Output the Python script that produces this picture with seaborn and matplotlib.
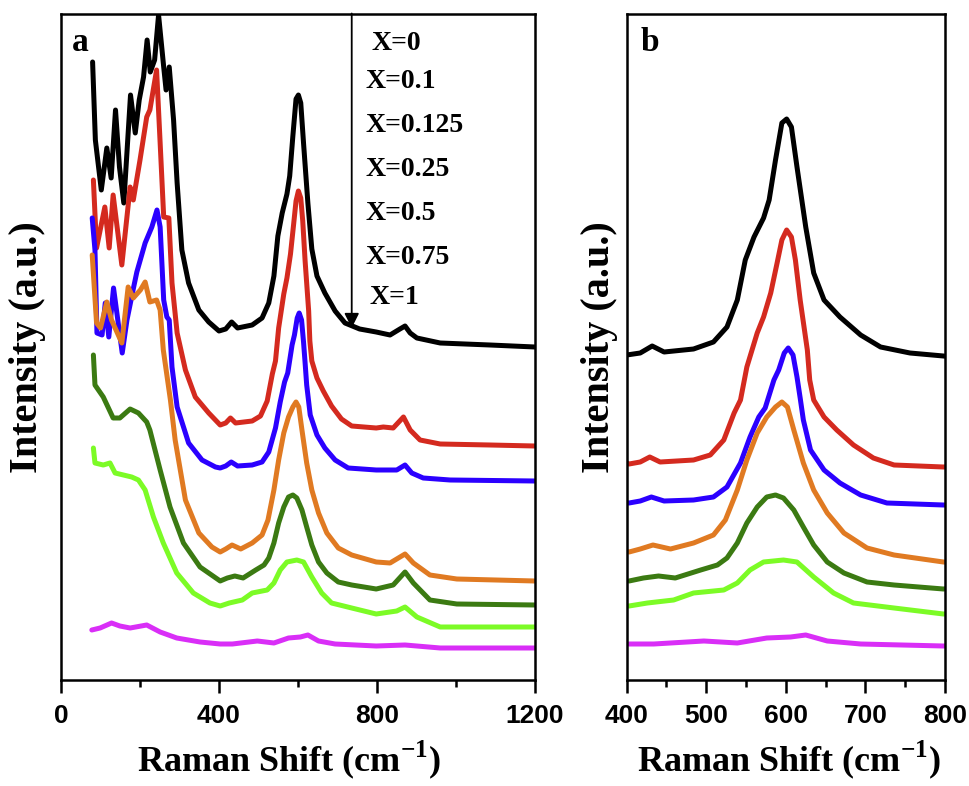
import numpy as np
import pandas as pd
import matplotlib
matplotlib.use("Agg")
import matplotlib.pyplot as plt
import seaborn as sns
from matplotlib.ticker import MultipleLocator
from matplotlib import font_manager

# ---------------- data ----------------
labels = ['X=0', 'X=0.1', 'X=0.125', 'X=0.25', 'X=0.5', 'X=0.75', 'X=1']
colors = ['#000000', '#D42A1F', '#2B00FF', '#E07A22', '#3B7A12', '#7CFB26', '#D92EF7']

black_x = [80, 87, 102, 116, 127, 138, 148, 159, 176, 188, 198, 209, 218, 226, 237, 247, 260, 266, 274, 285,
           294, 306, 323, 349, 374, 400, 417, 432, 447, 484, 509, 526, 539, 549, 560, 572, 579, 587, 595, 601,
           607, 614, 625, 635, 648, 668, 694, 719, 756, 798, 833, 858, 871, 884, 901, 960, 1086, 1200]
black_y = [618, 540, 490, 532, 502, 570, 513, 477, 585, 547, 580, 603, 640, 608, 620, 665, 613, 590, 613, 560,
           497, 430, 397, 370, 358, 349, 351, 358, 352, 355, 362, 377, 404, 444, 467, 486, 504, 544, 581, 585,
           577, 537, 477, 431, 404, 387, 369, 357, 351, 348, 345, 351, 354, 347, 342, 337, 335, 333]

red_x = [82, 90, 111, 122, 132, 154, 175, 183, 200, 217, 225, 242, 251, 260, 273, 281, 294, 315, 340, 374,
         403, 417, 429, 442, 484, 505, 522, 535, 543, 551, 564, 572, 581, 589, 595, 601, 607, 612, 618, 627,
         630, 635, 648, 664, 685, 710, 736, 798, 816, 841, 867, 884, 909, 960, 1086, 1200]
red_y = [500, 432, 473, 432, 485, 415, 493, 480, 520, 563, 570, 610, 537, 463, 462, 397, 347, 310, 283, 267,
         255, 257, 262, 257, 259, 264, 279, 306, 319, 352, 386, 402, 426, 456, 479, 489, 482, 459, 419, 369,
         339, 319, 302, 289, 274, 261, 254, 252, 253, 252, 263, 250, 240, 236, 235, 234]

blue_x = [79, 86, 91, 104, 112, 121, 133, 155, 167, 184, 192, 213, 230, 243, 251, 260, 268, 274, 281, 294,
          315, 323, 357, 391, 403, 417, 431, 447, 484, 509, 526, 543, 555, 566, 574, 585, 591, 598, 603, 609,
          614, 618, 622, 631, 648, 668, 694, 727, 798, 850, 871, 888, 917, 985, 1200]
blue_y = [462, 430, 347, 345, 377, 343, 392, 327, 360, 393, 408, 437, 453, 470, 453, 380, 363, 360, 313, 273,
          247, 237, 220, 213, 212, 214, 218, 214, 215, 218, 228, 252, 278, 298, 307, 335, 345, 362, 367, 360,
          338, 317, 295, 265, 245, 232, 220, 212, 210, 210, 215, 207, 202, 200, 199]

orange_x = [79, 90, 100, 116, 128, 154, 170, 183, 201, 213, 225, 242, 251, 259, 277, 289, 315, 349, 382, 403,
            417, 433, 455, 484, 509, 524, 539, 551, 564, 576, 587, 595, 602, 610, 622, 635, 652, 673, 702, 736,
            798, 833, 871, 892, 934, 1002, 1200]
orange_y = [425, 357, 352, 378, 360, 337, 393, 382, 390, 398, 378, 380, 370, 330, 280, 240, 180, 147, 133, 128,
            131, 135, 131, 137, 145, 160, 190, 220, 247, 263, 273, 278, 273, 250, 217, 190, 167, 147, 132, 125,
            118, 117, 126, 117, 105, 101, 99]

dgreen_x = [82, 86, 107, 132, 149, 175, 196, 217, 225, 251, 276, 310, 352, 403, 421, 440, 461, 493, 514, 526,
            539, 551, 564, 576, 587, 597, 610, 622, 635, 652, 673, 702, 736, 798, 841, 871, 892, 934, 1002, 1200]
dgreen_y = [325, 295, 283, 262, 262, 271, 267, 258, 250, 210, 173, 137, 113, 99, 102, 104, 102, 110, 115, 122,
            137, 157, 173, 183, 185, 182, 170, 153, 135, 118, 107, 98, 95, 91, 95, 108, 97, 80, 76, 75]

lgreen_x = [82, 86, 107, 124, 137, 158, 179, 196, 213, 234, 259, 293, 335, 377, 403, 426, 459, 484, 522, 539,
            555, 572, 597, 614, 635, 660, 685, 736, 798, 850, 871, 901, 960, 1086, 1200]
lgreen_y = [232, 217, 215, 217, 207, 205, 203, 200, 190, 163, 137, 107, 87, 77, 74, 77, 80, 87, 90, 97,
            110, 118, 120, 118, 103, 87, 77, 72, 66, 69, 73, 63, 53, 53, 53]

mag_x = [78, 99, 128, 149, 175, 217, 251, 293, 352, 403, 434, 497, 539, 576, 606, 625, 652, 694, 798, 871, 960, 1200]
mag_y = [50, 52, 57, 54, 52, 55, 48, 42, 38, 36, 36, 39, 37, 42, 43, 45, 39, 36, 34, 35, 32, 32]

# vertical offset of each trace in panel b relative to panel a
b_shift = [-24, -39, -35, 0, 0, 0, 0]

xs = [black_x, red_x, blue_x, orange_x, dgreen_x, lgreen_x, mag_x]
ys = [black_y, red_y, blue_y, orange_y, dgreen_y, lgreen_y, mag_y]

frames = []
for lab, x, y, sh in zip(labels, xs, ys, b_shift):
    frames.append(pd.DataFrame({'shift': x, 'intensity': y, 'sample': lab,
                                'intensity_b': np.array(y, dtype=float) + sh}))
df = pd.concat(frames, ignore_index=True)
df_b = df[(df['shift'] >= 370) & (df['shift'] <= 880)]

# ---------------- style ----------------
sns.set_style('ticks')
plt.rcParams['font.family'] = ['Liberation Serif', 'DejaVu Serif']
plt.rcParams['mathtext.fontset'] = 'custom'
plt.rcParams['mathtext.bf'] = 'Liberation Serif:bold'
plt.rcParams['mathtext.rm'] = 'Liberation Serif:bold'
for k in ('text.color', 'axes.labelcolor', 'xtick.color', 'ytick.color', 'axes.edgecolor'):
    plt.rcParams[k] = 'black'

names = {f.name for f in font_manager.fontManager.ttflist}
tick_family = 'Liberation Sans Narrow' if 'Liberation Sans Narrow' in names else 'Liberation Sans'
tick_size = 21 if tick_family == 'Liberation Sans Narrow' else 19

W, H = 969, 786
fig = plt.figure(figsize=(W / 100, H / 100), dpi=100)
bot = (H - 680) / H
hgt = 666.5 / H
ax_a = fig.add_axes([61 / W, bot, 474 / W, hgt])
ax_b = fig.add_axes([626.7 / W, bot, 318.3 / W, hgt])

pal = dict(zip(labels, colors))
sns.lineplot(data=df, x='shift', y='intensity', hue='sample', hue_order=labels, palette=pal,
             estimator=None, sort=False, lw=3.6, legend=False, ax=ax_a)
sns.lineplot(data=df_b, x='shift', y='intensity_b', hue='sample', hue_order=labels, palette=pal,
             estimator=None, sort=False, lw=3.6, legend=False, ax=ax_b)
for ax in (ax_a, ax_b):
    for ln in ax.get_lines():
        ln.set_solid_joinstyle('round')
        ln.set_solid_capstyle('round')

ax_a.set_xlim(0, 1200)
ax_b.set_xlim(400, 800)
for ax in (ax_a, ax_b):
    ax.set_ylim(0, 666.5)
    ax.set_yticks([])
    for s in ax.spines.values():
        s.set_linewidth(1.8)
        s.set_color('black')
    ax.tick_params(axis='x', which='major', direction='out', length=9, width=1.8, pad=8,
                   labelsize=tick_size, colors='black')
    ax.tick_params(axis='x', which='minor', direction='out', length=5, width=1.8, colors='black')
    ax.set_ylabel('Intensity (a.u.)', fontsize=29, fontweight='bold', va='center', color='black')
    ax.set_xlabel(r'Raman Shift (cm$^{\mathbf{-1}}$)', fontsize=26, fontweight='bold', va='center',
                  color='black')

ax_a.xaxis.set_major_locator(MultipleLocator(400))
ax_a.xaxis.set_minor_locator(MultipleLocator(200))
ax_b.xaxis.set_major_locator(MultipleLocator(100))
ax_b.xaxis.set_minor_locator(MultipleLocator(50))

for ax in (ax_a, ax_b):
    for lab in ax.get_xticklabels():
        lab.set_family([tick_family, 'Liberation Sans'])
        lab.set_fontweight('bold')

ax_a.yaxis.set_label_coords(-33 / 474, 0.5)
ax_b.yaxis.set_label_coords(-27 / 318.3, 0.5)
ax_a.xaxis.set_label_coords(0.48, -80 / 666.5)
ax_b.xaxis.set_label_coords(0.51, -80 / 666.5)

ax_a.text(0.023, 0.957, 'a', transform=ax_a.transAxes, fontsize=24, fontweight='bold',
          ha='left', va='center')
ax_b.text(0.042, 0.957, 'b', transform=ax_b.transAxes, fontsize=24, fontweight='bold',
          ha='left', va='center')

# legend text column and arrow
leg_x = [787, 772, 770, 772, 772, 772, 780]
leg_y = [637, 598, 555, 510, 467, 423, 383]
for t, lx, ly in zip(labels, leg_x, leg_y):
    ax_a.text(lx, ly, t, fontsize=20, fontweight='bold', ha='left', va='center')

ax_a.annotate('', xy=(736, 352), xytext=(736, 666.5),
              arrowprops=dict(arrowstyle='-|>', lw=1.3, color='black', mutation_scale=22,
                              shrinkA=0, shrinkB=0))

fig.savefig('out.png', dpi=100)
